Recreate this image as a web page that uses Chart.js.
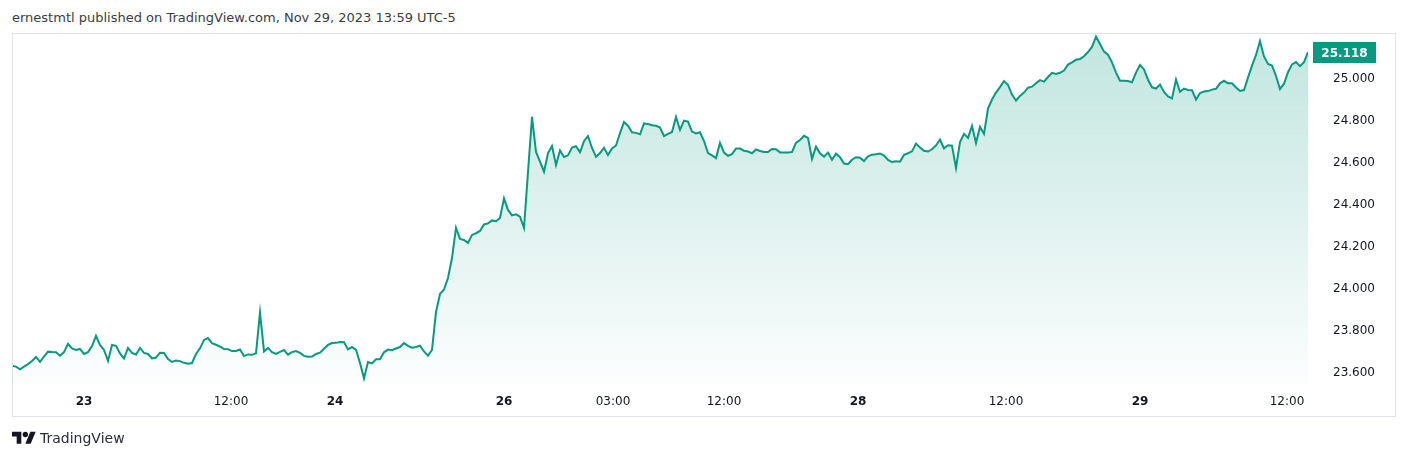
<!DOCTYPE html>
<html>
<head>
<meta charset="utf-8">
<script src="https://cdn.jsdelivr.net/npm/chart.js@4/dist/chart.umd.min.js"></script>
<style>
html,body{margin:0;padding:0;background:#fff;width:1407px;height:459px;overflow:hidden;font-family:"DejaVu Sans",sans-serif;}
#title{position:absolute;left:12px;top:10px;font-size:13px;line-height:15px;color:#3d3d3d;white-space:nowrap;}
#frame{position:absolute;left:12px;top:33px;width:1382px;height:382px;border:1px solid #e0e3eb;pointer-events:none;}
#wrap{position:absolute;left:0;top:0;width:1407px;height:459px;}
#logo{position:absolute;left:12px;top:429px;}
#brand{position:absolute;left:40px;top:430px;font-size:14px;line-height:16px;color:#2a2e39;white-space:nowrap;}
</style>
</head>
<body>
<div id="title">ernestmtl published on TradingView.com, Nov 29, 2023 13:59 UTC-5</div>
<div id="wrap"><canvas id="c" width="1407" height="459"></canvas></div>
<div id="frame"></div>
<svg id="logo" width="24" height="19" viewBox="0 0 36 28"><path fill="#131722" d="M14 22H7V11H0V4h14v18zM28 22h-8l7.5-18h8L28 22z"/><circle fill="#131722" cx="20" cy="8" r="4"/></svg>
<div id="brand">TradingView</div>
<script>
// Price series (one value per bar, left to right)
const values = [
23.625,23.621,23.608,23.621,23.633,23.648,23.667,23.643,23.669,23.692,
23.690,23.689,23.673,23.690,23.729,23.707,23.700,23.705,23.681,23.690,
23.719,23.767,23.724,23.700,23.648,23.724,23.720,23.684,23.660,23.710,
23.686,23.679,23.710,23.686,23.681,23.660,23.664,23.687,23.686,23.657,
23.643,23.650,23.647,23.639,23.635,23.638,23.681,23.708,23.748,23.757,
23.733,23.725,23.716,23.705,23.704,23.695,23.695,23.702,23.671,23.679,
23.677,23.684,23.878,23.693,23.710,23.690,23.681,23.691,23.700,23.678,
23.690,23.695,23.686,23.672,23.668,23.669,23.681,23.687,23.706,23.724,
23.733,23.734,23.738,23.737,23.703,23.714,23.701,23.638,23.565,23.643,
23.636,23.656,23.656,23.689,23.702,23.699,23.707,23.714,23.733,23.720,
23.711,23.714,23.721,23.693,23.673,23.700,23.881,23.967,23.988,24.043,
24.138,24.281,24.229,24.224,24.210,24.248,24.256,24.267,24.298,24.303,
24.317,24.313,24.329,24.422,24.367,24.341,24.346,24.335,24.281,24.548,
24.810,24.643,24.597,24.549,24.638,24.671,24.581,24.650,24.619,24.627,
24.664,24.670,24.641,24.694,24.719,24.662,24.620,24.638,24.663,24.629,
24.660,24.674,24.733,24.786,24.768,24.737,24.734,24.727,24.779,24.776,
24.770,24.768,24.759,24.719,24.729,24.738,24.810,24.748,24.792,24.788,
24.740,24.731,24.737,24.695,24.638,24.627,24.614,24.686,24.640,24.625,
24.633,24.659,24.659,24.649,24.645,24.637,24.655,24.648,24.643,24.643,
24.657,24.656,24.641,24.641,24.641,24.643,24.686,24.700,24.720,24.710,
24.610,24.668,24.637,24.621,24.640,24.606,24.636,24.618,24.588,24.585,
24.606,24.618,24.616,24.600,24.622,24.630,24.632,24.636,24.626,24.605,
24.595,24.599,24.597,24.629,24.637,24.646,24.683,24.664,24.649,24.645,
24.656,24.674,24.702,24.660,24.675,24.673,24.567,24.690,24.729,24.710,
24.767,24.686,24.762,24.729,24.850,24.893,24.926,24.952,24.981,24.962,
24.916,24.888,24.910,24.926,24.949,24.954,24.970,24.985,24.978,25.000,
25.020,25.015,25.020,25.031,25.059,25.070,25.082,25.086,25.099,25.119,
25.143,25.192,25.157,25.121,25.106,25.070,25.021,24.982,24.982,24.981,
24.975,25.021,25.057,25.036,24.987,24.951,24.945,24.964,24.929,24.908,
24.898,24.988,24.930,24.945,24.938,24.937,24.893,24.924,24.931,24.933,
24.940,24.944,24.970,24.982,24.970,24.970,24.950,24.934,24.938,24.997,
25.054,25.105,25.171,25.098,25.062,25.055,25.005,24.943,24.968,25.023,
25.060,25.071,25.052,25.071,25.118
];
// Time-axis labels, positioned by bar index
const tickBars  = [18, 54.75, 80.75, 123, 150.25, 178, 211.5, 248.5, 282, 318.75];
const tickTexts = ['23','12:00','24','26','03:00','12:00','28','12:00','29','12:00'];
const tickIsDate = [true,false,true,true,false,false,true,false,true,false];
// Price-axis labels
const priceTicks = [23.6, 23.8, 24.0, 24.2, 24.4, 24.6, 24.8, 25.0];
const priceMin = 23.5333, priceMax = 25.2048;
const lastPrice = 25.118;

const lineColor = '#089981';
const points = values.map((v, i) => ({x: i, y: v}));

const lastLabel = {
  id: 'lastLabel',
  afterDraw(chart) {
    const ctx = chart.ctx;
    const y = chart.scales.y.getPixelForValue(lastPrice);
    const x0 = chart.chartArea.right + 5;
    ctx.save();
    ctx.fillStyle = lineColor;
    ctx.fillRect(x0, Math.round(y) - 10, 63, 21);
    ctx.fillStyle = '#ffffff';
    ctx.font = 'bold 12px "DejaVu Sans"';
    ctx.textAlign = 'center';
    ctx.textBaseline = 'middle';
    ctx.fillText(lastPrice.toFixed(3), x0 + 31.5, Math.round(y) + 1.5);
    ctx.restore();
  }
};

new Chart(document.getElementById('c'), {
  type: 'line',
  data: {
    datasets: [{
      data: points,
      borderColor: lineColor,
      borderWidth: 2,
      pointRadius: 0,
      tension: 0,
      fill: 'start',
      backgroundColor: (ctx) => {
        const a = ctx.chart.chartArea;
        if (!a) return 'rgba(8,153,129,0.1)';
        const g = ctx.chart.ctx.createLinearGradient(0, a.top, 0, a.bottom);
        g.addColorStop(0, 'rgba(8,153,129,0.25)');
        g.addColorStop(1, 'rgba(8,153,129,0.01)');
        return g;
      }
    }]
  },
  options: {
    responsive: false,
    animation: false,
    devicePixelRatio: 1,
    layout: {padding: {left: 12, top: 34, right: 12, bottom: 43}},
    plugins: {legend: {display: false}, tooltip: {enabled: false}},
    scales: {
      x: {
        type: 'linear', min: 0, max: values.length - 1,
        grid: {display: false}, border: {display: false},
        afterBuildTicks(s) { s.ticks = tickBars.map(v => ({value: v})); },
        afterFit(s) { s.height = 31; s.paddingLeft = 0; s.paddingRight = 0; },
        ticks: {
          autoSkip: false, maxRotation: 0, padding: 2, color: '#131722',
          font: (c) => ({family: 'DejaVu Sans', size: 12, weight: tickIsDate[c.index] ? 'bold' : 'normal'}),
          callback: (v, i) => tickTexts[i]
        }
      },
      y: {
        position: 'right', min: priceMin, max: priceMax,
        grid: {display: false}, border: {display: false},
        afterBuildTicks(s) { s.ticks = priceTicks.map(v => ({value: v})); },
        afterFit(s) { s.width = 87; s.paddingTop = 0; s.paddingBottom = 0; },
        ticks: {
          padding: 17, labelOffset: 2, color: '#131722',
          font: {family: 'DejaVu Sans', size: 12},
          callback: (v) => Number(v).toFixed(3)
        }
      }
    }
  },
  plugins: [lastLabel]
});
</script>
</body>
</html>
